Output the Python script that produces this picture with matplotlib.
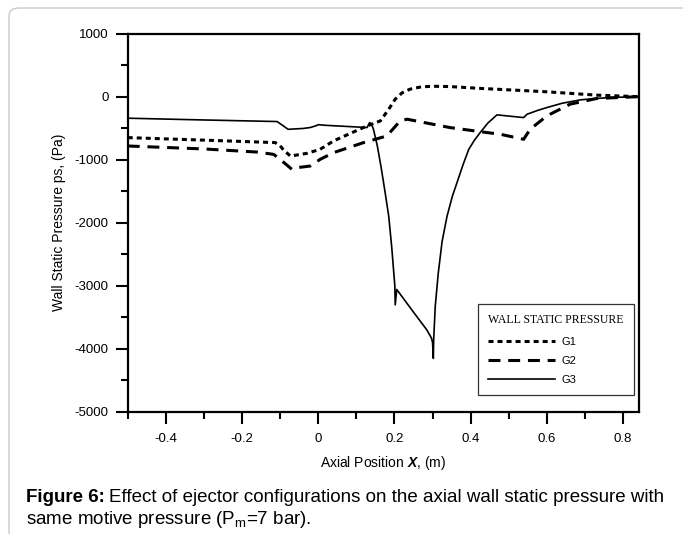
import numpy as np
import matplotlib
matplotlib.use("Agg")
import matplotlib.pyplot as plt
from matplotlib.patches import FancyBboxPatch

# -----------------------------
# data
# -----------------------------
g1_x = [-0.5, -0.3, -0.113, -0.1, -0.091, -0.073, -0.03, 0.005, 0.04, 0.128,
        0.163, 0.185, 0.202, 0.22, 0.241, 0.27, 0.3, 0.346, 0.425, 0.478,
        0.6, 0.731, 0.84]
g1_p = [-650, -690, -729, -780, -847, -943, -900, -836, -703, -465,
        -385, -199, -40, 60, 119, 155, 165, 160, 131, 115,
        77, 24, 0]

g2_x = [-0.5, -0.3, -0.161, -0.117, -0.1, -0.069, -0.056, -0.021, 0.005, 0.04,
        0.119, 0.18, 0.215, 0.233, 0.346, 0.443, 0.478, 0.539, 0.556, 0.6,
        0.661, 0.731, 0.84]
g2_p = [-783, -830, -879, -916, -995, -1154, -1127, -1101, -995, -889,
        -729, -624, -385, -358, -491, -570, -597, -677, -518, -305,
        -119, -29, 0]

g3_x = [-0.5, -0.3, -0.108, -0.095, -0.079, -0.04, -0.021, -0.005, 0.0, 0.02,
        0.128, 0.135, 0.14, 0.145, 0.155, 0.165, 0.175, 0.185, 0.193, 0.199,
        0.201, 0.202, 0.206, 0.25, 0.285, 0.297, 0.3, 0.302, 0.303, 0.307,
        0.315, 0.325, 0.338, 0.352, 0.364, 0.38, 0.395, 0.41, 0.425, 0.445,
        0.469, 0.539, 0.548, 0.575, 0.6, 0.64, 0.688, 0.73, 0.775, 0.84]
g3_p = [-342, -370, -395, -450, -518, -505, -490, -460, -445, -455,
        -490, -411, -440, -520, -780, -1120, -1500, -1898, -2400, -2853,
        -3000, -3304, -3060, -3420, -3702, -3830, -3900, -4153, -3850, -3331,
        -2800, -2300, -1898, -1580, -1367, -1080, -836, -690, -570, -420,
        -289, -332, -279, -220, -173, -105, -51, -28, -12, 0]

series_labels = ["G1", "G2", "G3"]
legend_title = "WALL STATIC PRESSURE"

# -----------------------------
# plot
# -----------------------------
plt.rcParams["font.family"] = ["Liberation Sans", "DejaVu Sans"]
plt.rcParams["mathtext.fontset"] = "custom"
plt.rcParams["mathtext.rm"] = "Liberation Sans"
plt.rcParams["mathtext.it"] = "Liberation Sans:italic:bold"
plt.rcParams["mathtext.bf"] = "Liberation Sans:bold"
plt.rcParams["lines.scale_dashes"] = False
plt.rcParams["axes.unicode_minus"] = False

fig = plt.figure(figsize=(6.83, 5.34), dpi=100)

# light rounded frame of the page
frame = FancyBboxPatch((9 / 683, -0.2), 1.2, 1.2 - 8 / 534,
                       boxstyle="round,pad=0,rounding_size=0.015",
                       transform=fig.transFigure, facecolor="none",
                       edgecolor="#c4c4c4", linewidth=0.9)
fig.patches.append(frame)

ax = fig.add_axes([0.187, 0.229, 0.7487, 0.708])

ax.plot(g1_x, g1_p, color="black", lw=2.2, dashes=(3.6, 2.9), label=series_labels[0])
ax.plot(g2_x, g2_p, color="black", lw=2.2, dashes=(8.6, 5.6), label=series_labels[1])
ax.plot(g3_x, g3_p, color="black", lw=1.2, label=series_labels[2])

ax.set_xlim(-0.5, 0.842)
ax.set_ylim(-5000, 1000)
ax.set_xticks([-0.4, -0.2, 0, 0.2, 0.4, 0.6, 0.8])
ax.set_xticklabels(["-0.4", "-0.2", "0", "0.2", "0.4", "0.6", "0.8"])
ax.set_xticks(np.arange(-0.5, 0.85, 0.1), minor=True)
ax.set_yticks(np.arange(-5000, 1001, 1000))
ax.set_yticks(np.arange(-5000, 1001, 500), minor=True)

for s in ax.spines.values():
    s.set_linewidth(1.6)
ax.tick_params(which="major", direction="out", length=8.6, width=1.5,
               labelsize=9.5, pad=5)
ax.tick_params(which="minor", direction="out", length=5, width=1.5)
ax.tick_params(axis="x", which="major", pad=7)

ax.set_xlabel(r"Axial Position $\it{X}$, (m)", fontsize=10, labelpad=6)
ax.set_ylabel("Wall Static Pressure ps, (Pa)", fontsize=10, labelpad=6)

leg = ax.legend(loc="lower left", bbox_to_anchor=(0.685, 0.045),
                title=legend_title, frameon=True, fancybox=False,
                fontsize=8, handlelength=6.0, handletextpad=0.6,
                labelspacing=0.8, borderpad=0.9, borderaxespad=0,
                alignment="left",
                title_fontproperties={"family": "Liberation Serif", "size": 8.5})
leg.get_frame().set_edgecolor("black")
leg.get_frame().set_linewidth(0.9)
leg._legend_box.sep = 8

# caption below the chart
fig.canvas.draw()
t1 = fig.text(26 / 683, 1 - 497 / 534, "Figure 6:", fontsize=13.5,
              fontweight="bold", va="center", ha="left")
bb = t1.get_window_extent(fig.canvas.get_renderer())
fig.text(bb.x1 / fig.bbox.width + 4 / 683, 1 - 497 / 534,
         "Effect of ejector configurations on the axial wall static pressure with",
         fontsize=13.5, va="center", ha="left")
fig.text(26 / 683, 1 - 519 / 534, r"same motive pressure (P$_{\mathrm{m}}$=7 bar).",
         fontsize=13.5, va="center", ha="left")

fig.savefig("out.png", dpi=100)
